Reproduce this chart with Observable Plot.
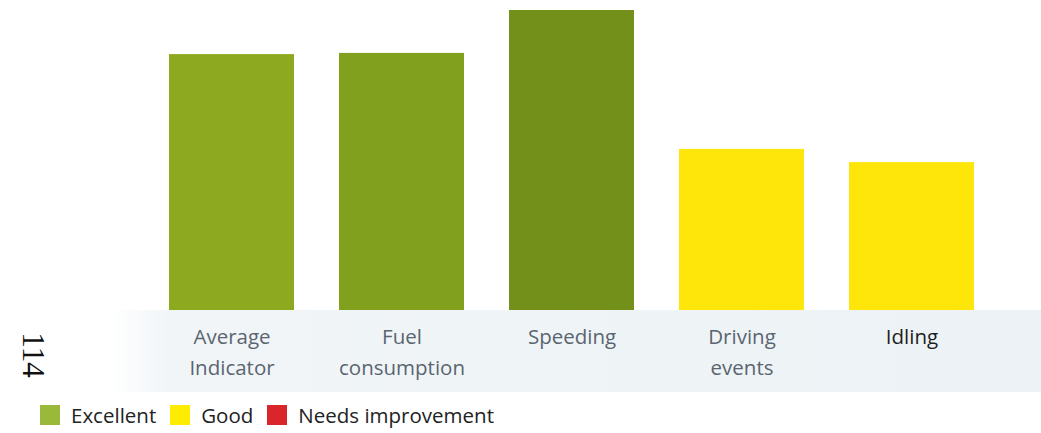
<!DOCTYPE html>
<html>
<head>
<meta charset="utf-8">
<script src="https://cdn.jsdelivr.net/npm/d3@7"></script>
<script src="https://cdn.jsdelivr.net/npm/@observablehq/plot@0.6"></script>
<style>
  html, body { margin: 0; padding: 0; background: #fff; }
  body { width: 1041px; height: 433px; position: relative; overflow: hidden; font-family: "Open Sans", sans-serif; }
  #band { position: absolute; left: 110px; top: 310px; width: 931px; height: 82px;
          background: linear-gradient(to right, rgba(240,245,248,0) 0px, #f1f5f8 60px, #ecf2f5 100%); }
  #chart { position: absolute; left: 0; top: 0; }
  #page { position: absolute; left: 10px; top: 337px; font-family: "Liberation Serif", "DejaVu Serif", serif;
          font-size: 31px; color: #111; transform: rotate(90deg); transform-origin: center; }
  #legend { position: absolute; left: 40px; top: 401px; display: flex; align-items: center;
            font-size: 20.5px; color: #222; }
  .sw { width: 20px; height: 20px; display: inline-block; margin-right: 11px; }
  .item { display: flex; align-items: center; margin-right: 14px; }
</style>
</head>
<body>
<div id="band"></div>
<div id="chart"></div>
<div id="page">114</div>
<div id="legend"></div>
<script>
const categories = ["Average\nIndicator", "Fuel\nconsumption", "Speeding", "Driving\nevents", "Idling"];
const values = [85.3, 85.7, 100, 53.7, 49.3];
const ratings = ["Excellent", "Excellent", "Excellent", "Good", "Good"];
const legendLabels = ["Excellent", "Good", "Needs improvement"];

const barColors = ["#8ca91f", "#80a01e", "#73901b", "#ffe60a", "#ffe60a"];
const legendColors = ["#9ab83a", "#ffec00", "#d9262a"];

const data = categories.map((c, i) => ({category: c, value: values[i], rating: ratings[i]}));

const chart = Plot.plot({
  width: 1041,
  height: 395,
  marginTop: 10,
  marginBottom: 85,
  marginLeft: 121,
  marginRight: 20,
  style: {background: "transparent", fontFamily: "Open Sans, sans-serif"},
  x: {domain: categories, padding: 0.265, label: null},
  y: {domain: [0, 100], axis: null},
  color: {domain: categories, range: barColors},
  marks: [
    Plot.barY(data, {x: "category", y: "value", fill: "category"}),
    Plot.axisX({
      tickSize: 0,
      tickPadding: 12,
      fontSize: 20.5,
      lineHeight: 1.5,
      fill: d => d === "Idling" ? "#1e1e1e" : "#5a6570",
      label: null
    })
  ]
});
document.getElementById("chart").appendChild(chart);

const legend = document.getElementById("legend");
legendLabels.forEach((l, i) => {
  const it = document.createElement("div");
  it.className = "item";
  const sw = document.createElement("span");
  sw.className = "sw";
  sw.style.background = legendColors[i];
  it.appendChild(sw);
  const t = document.createElement("span");
  t.textContent = l;
  it.appendChild(t);
  legend.appendChild(it);
});
</script>
</body>
</html>
